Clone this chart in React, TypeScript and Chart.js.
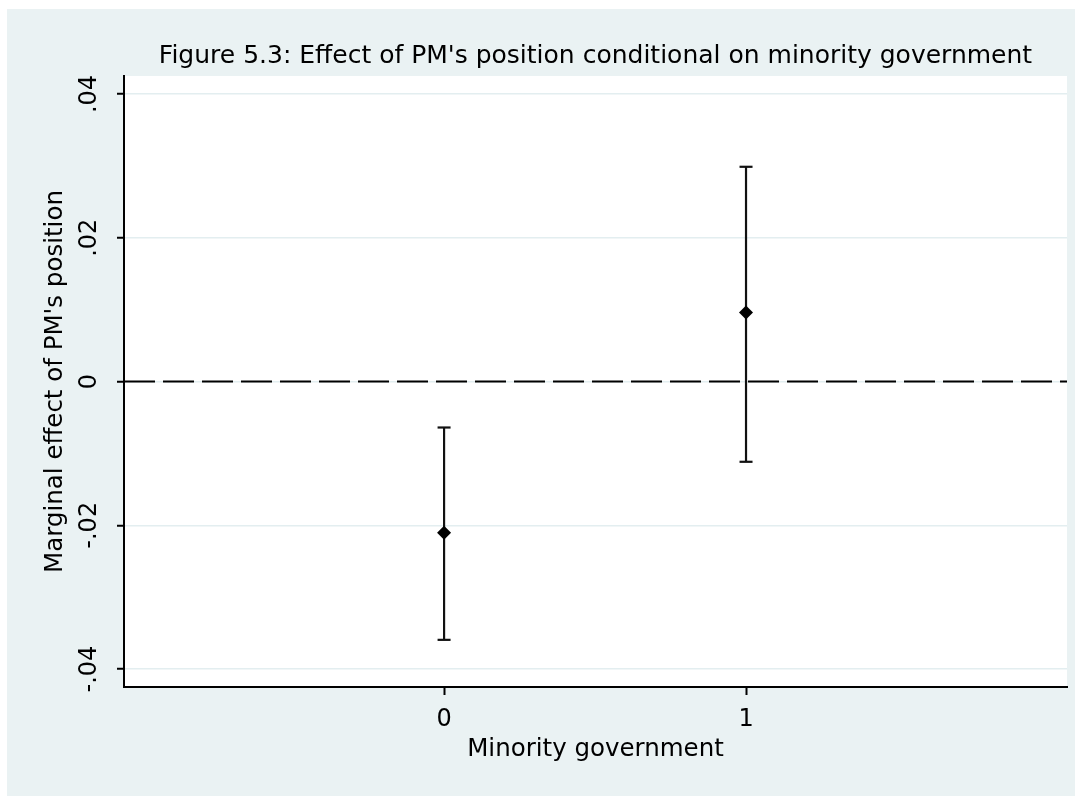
import React, { useEffect, useRef } from "react";
import { Chart, registerables } from "chart.js";

Chart.register(...registerables);

// ---- data ----
const categories = [0, 1];
const estimates = [-0.02105, 0.0096];
const ciLower = [-0.03594, -0.01117];
const ciUpper = [-0.0064, 0.02987];
const yTickValues = [-0.04, -0.02, 0, 0.02, 0.04];
const yTickLabels = ["-.04", "-.02", "0", ".02", ".04"];
const xTickValues = [0, 1];
const xTickLabels = ["0", "1"];
const X_MIN = -1.06;
const X_MAX = 2.063;
const Y_MIN = -0.0425;
const Y_MAX = 0.0425;

const TITLE = "Figure 5.3: Effect of PM's position conditional on minority government";
const X_TITLE = "Minority government";
const Y_TITLE = "Marginal effect of PM's position";

const FONT = "'DejaVu Sans', 'Liberation Sans', Arial, sans-serif";
const BG = "#EAF2F3";

const bgPlugin = {
  id: "stataBackground",
  beforeDraw(chart: any) {
    const { ctx, chartArea } = chart;
    ctx.save();
    ctx.fillStyle = "#ffffff";
    ctx.fillRect(0, 0, chart.width, chart.height);
    ctx.fillStyle = BG;
    ctx.fillRect(7, 9, 1068, chart.height - 9);
    ctx.fillStyle = "#ffffff";
    ctx.fillRect(
      chartArea.left,
      chartArea.top,
      chartArea.right - chartArea.left,
      chartArea.bottom - chartArea.top
    );
    ctx.restore();
  },
};

export default function App() {
  const canvasRef = useRef<HTMLCanvasElement | null>(null);

  useEffect(() => {
    if (!canvasRef.current) return;
    Chart.defaults.font.family = FONT;

    const datasets: any[] = [
      {
        label: "zero",
        data: [
          { x: X_MIN, y: 0 },
          { x: X_MAX, y: 0 },
        ],
        showLine: true,
        borderColor: "#000",
        borderWidth: 2,
        borderDash: [31, 8],
        pointRadius: 0,
        order: 3,
      },
      ...categories.map((c, i) => ({
        label: "ci" + i,
        data: [
          { x: c, y: ciLower[i] },
          { x: c, y: ciUpper[i] },
        ],
        showLine: true,
        borderColor: "#111",
        borderWidth: 2.2,
        pointStyle: "line",
        pointRadius: 6.5,
        pointBorderWidth: 2.2,
        pointBorderColor: "#111",
        order: 2,
      })),
      {
        label: "estimate",
        data: categories.map((c, i) => ({ x: c, y: estimates[i] })),
        pointStyle: "rectRot",
        pointRadius: 7,
        pointBackgroundColor: "#000",
        pointBorderColor: "#000",
        pointBorderWidth: 0,
        order: 1,
      },
    ];

    const chart = new Chart(canvasRef.current, {
      type: "scatter",
      data: { datasets },
      plugins: [bgPlugin],
      options: {
        animation: false,
        responsive: false,
        events: [],
        layout: { padding: { left: 0, right: 15, top: 0, bottom: 0 } },
        plugins: {
          legend: { display: false },
          tooltip: { enabled: false },
          title: {
            display: true,
            text: TITLE,
            fullSize: false,
            color: "#000",
            font: { family: FONT, size: 25, weight: "normal" },
            padding: { top: 41, bottom: 5 },
          },
        },
        scales: {
          x: {
            type: "linear",
            position: "bottom",
            min: X_MIN,
            max: X_MAX,
            afterBuildTicks: (s: any) => {
              s.ticks = xTickValues.map((v) => ({ value: v }));
            },
            afterFit: (s: any) => {
              s.height = 109;
            },
            ticks: {
              autoSkip: false,
              maxRotation: 0,
              padding: 10,
              color: "#000",
              font: { family: FONT, size: 24 },
              callback: (_v: any, i: number) => xTickLabels[i],
            },
            grid: {
              drawOnChartArea: false,
              tickLength: 8,
              tickColor: "#000",
              tickWidth: 2,
            },
            border: { color: "#000", width: 2 },
            title: {
              display: true,
              text: X_TITLE,
              color: "#000",
              font: { family: FONT, size: 24.5 },
              padding: { top: 0, bottom: 32 },
            },
          },
          y: {
            type: "linear",
            position: "left",
            min: Y_MIN,
            max: Y_MAX,
            afterBuildTicks: (s: any) => {
              s.ticks = yTickValues.map((v) => ({ value: v }));
            },
            afterFit: (s: any) => {
              s.width = 124;
            },
            ticks: {
              autoSkip: false,
              minRotation: 90,
              maxRotation: 90,
              crossAlign: "center",
              padding: 4,
              color: "#000",
              font: { family: FONT, size: 24 },
              callback: (_v: any, i: number) => yTickLabels[i],
            },
            grid: {
              color: "#E3EEF0",
              lineWidth: 1.5,
              tickLength: 7,
              tickColor: "#000",
              tickWidth: 2,
            },
            border: { color: "#000", width: 2 },
            title: {
              display: true,
              text: Y_TITLE,
              color: "#000",
              font: { family: FONT, size: 24.5 },
              padding: { top: 41, bottom: 0 },
            },
          },
        },
      } as any,
    });

    return () => chart.destroy();
  }, []);

  return (
    <div style={{ position: "absolute", left: 0, top: 0, width: 1082, height: 796 }}>
      <canvas
        ref={canvasRef}
        width={1082}
        height={796}
        style={{ display: "block", width: 1082, height: 796 }}
      />
    </div>
  );
}
